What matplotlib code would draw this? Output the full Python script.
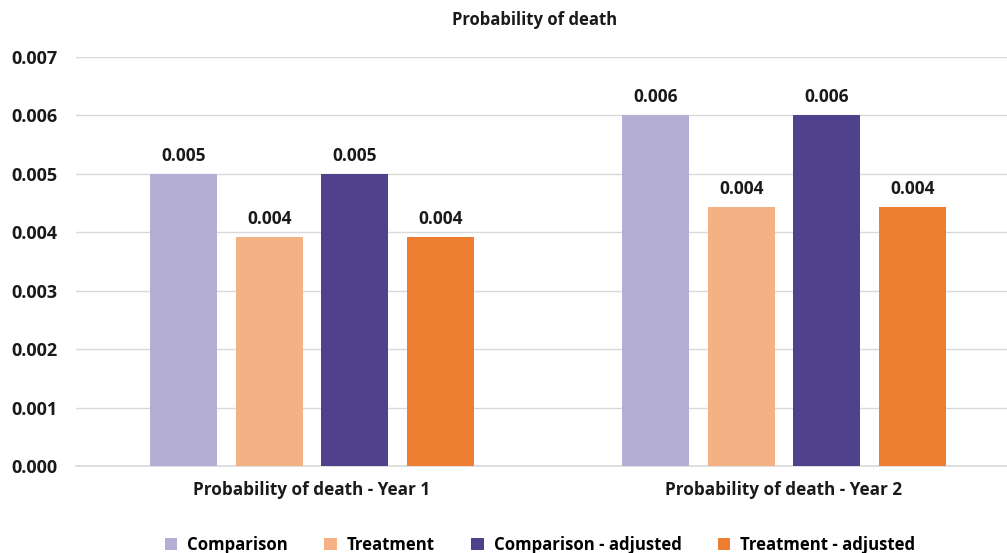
import numpy as np
import matplotlib
matplotlib.use("Agg")
import matplotlib.pyplot as plt
from matplotlib.patches import Patch

plt.rcParams['font.family'] = ['Open Sans', 'DejaVu Sans']

# values
categories = ["Probability of death - Year 1", "Probability of death - Year 2"]
series = ["Comparison", "Treatment", "Comparison - adjusted", "Treatment - adjusted"]
comparison = [0.005, 0.006]
treatment = [0.00392, 0.00443]
comparison_adj = [0.005, 0.006]
treatment_adj = [0.00392, 0.00443]
colors = ["#b5aed4", "#f4b183", "#4f418c", "#ed7d31"]

fig = plt.figure(figsize=(10.07, 5.53), dpi=100)
ax = fig.add_axes([76/1007, 87/553, 931/1007, 409/553])

x = np.arange(len(categories))
width = 0.142
step = 0.181
offsets = (np.arange(4) - 1.5) * step

for vals, off, col in zip([comparison, treatment, comparison_adj, treatment_adj], offsets, colors):
    bars = ax.bar(x + off, vals, width=width, color=col, zorder=3)
    for b, v in zip(bars, vals):
        ax.text(b.get_x() + b.get_width()/2, v + 0.00016, f"{v:.3f}",
                ha='center', va='bottom', fontsize=12.5, fontweight='bold', color='#1a1a1a')

ax.set_xlim(-0.5, 1.4725)
ax.set_ylim(0, 0.007)
ax.set_yticks(np.arange(0, 0.0071, 0.001))
ax.set_yticklabels([f"{t:.3f}" for t in np.arange(0, 0.0071, 0.001)])
ax.set_xticks(x)
ax.set_xticklabels(categories)
ax.grid(axis='y', color='#d9d9d9', linewidth=1, zorder=0)
for s in ['top', 'right', 'left']:
    ax.spines[s].set_visible(False)
ax.spines['bottom'].set_color('#d9d9d9')
ax.spines['bottom'].set_linewidth(1.2)
ax.tick_params(axis='both', length=0, labelcolor='#1a1a1a')
ax.tick_params(axis='y', pad=13.5, labelsize=13)
ax.tick_params(axis='x', pad=10.5, labelsize=12.3)
for lbl in ax.get_xticklabels() + ax.get_yticklabels():
    lbl.set_fontweight('bold')

fig.text(535/1007, 1 - 20/553, "Probability of death", ha='center', va='center',
         fontsize=12, fontweight='bold', color='#1a1a1a')

handles = [Patch(facecolor=c, label=s) for c, s in zip(colors, series)]
fig.legend(handles=handles, loc='center', bbox_to_anchor=(540/1007, 1 - 545/553),
           ncol=4, frameon=False, handlelength=0.75, handleheight=0.75,
           handletextpad=0.6, columnspacing=2.15,
           prop={'size': 12.1, 'weight': 'bold'})

fig.savefig("out.png", dpi=100)
